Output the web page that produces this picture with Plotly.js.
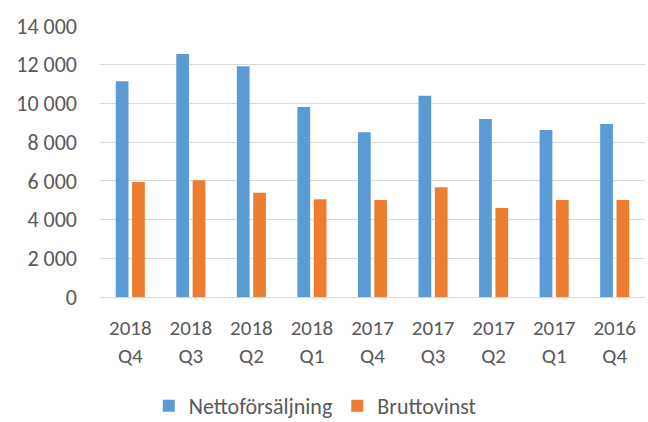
<!DOCTYPE html>
<html><head><meta charset="utf-8">
<script src="https://cdn.plot.ly/plotly-3.0.1.min.js"></script>
<style>html,body{margin:0;padding:0;background:#fff}#chart{width:648px;height:422px}</style>
</head><body><div id="chart"></div>
<script>
const categories = ["2018<br>Q4","2018<br>Q3","2018<br>Q2","2018<br>Q1","2017<br>Q4","2017<br>Q3","2017<br>Q2","2017<br>Q1","2016<br>Q4"];
const netto = [11140, 12550, 11920, 9810, 8510, 10400, 9190, 8630, 8940];
const brutto = [5940, 6030, 5390, 5050, 5010, 5670, 4600, 5010, 5010];
const yTicks = [0, 2000, 4000, 6000, 8000, 10000, 12000, 14000];
const yTickText = ["0", "2 000", "4 000", "6 000", "8 000", "10 000", "12 000", "14 000"];

const fam = "Carlito, Calibri, 'Open Sans', sans-serif";
const data = [
  {type: "bar", name: "Nettoförsäljning", x: categories, y: netto, marker: {color: "#5B9BD5"}},
  {type: "bar", name: "Bruttovinst", x: categories, y: brutto, marker: {color: "#ED7D31"}}
];
const layout = {
  width: 648, height: 422,
  margin: {l: 100, r: 3, t: 26, b: 125},
  paper_bgcolor: "#fff", plot_bgcolor: "#fff",
  font: {family: fam, size: 20, color: "#595959"},
  barmode: "group", bargap: 0.46, bargroupgap: 0.22,
  showlegend: true,
  legend: {orientation: "h", xref: "paper", x: 0.395, xanchor: "center", yref: "container", y: 0.038, yanchor: "middle", font: {family: fam, size: 22, color: "#595959"}, traceorder: "normal"},
  xaxis: {type: "category", automargin: false, showgrid: false, showline: true, linecolor: "#D9D9D9", linewidth: 1, ticks: "", tickfont: {family: fam, size: 21, color: "#595959"}, ticklabelstandoff: 12},
  yaxis: {range: [0, 14000], automargin: false, tickvals: yTicks, ticktext: yTickText, showgrid: true, gridcolor: "#D9D9D9", gridwidth: 1, zeroline: false, showline: false, ticks: "", tickfont: {family: fam, size: 22, color: "#595959"}, ticklabelstandoff: 22}
};
Plotly.newPlot("chart", data, layout, {displayModeBar: false, staticPlot: true});
</script></body></html>
